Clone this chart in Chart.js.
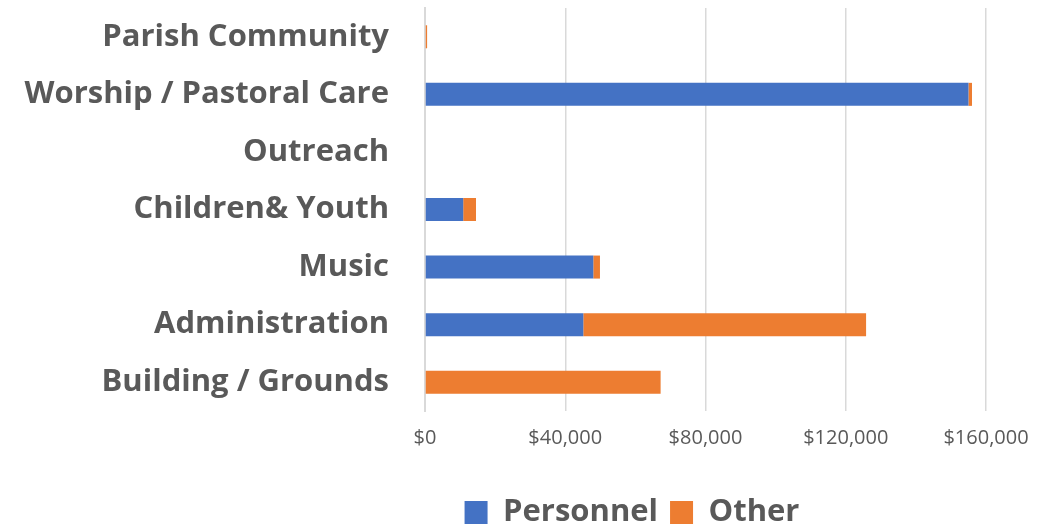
<!DOCTYPE html>
<html>
<head>
<meta charset="utf-8">
<script src="https://cdn.jsdelivr.net/npm/chart.js@4"></script>
<style>
  html, body { margin: 0; padding: 0; background: #fff; }
  #wrap { width: 1056px; height: 526px; }
</style>
</head>
<body>
<div id="wrap"><canvas id="chart"></canvas></div>
<script>
const categories = [
    "Parish Community", "Worship / Pastoral Care", "Outreach", "Children& Youth",
    "Music", "Administration", "Building / Grounds"
];
const personnel = [0, 155000, 0, 10900, 48000, 45150, 0];
const other = [600, 1000, 0, 3650, 1900, 80650, 67200];
const xTicks = [0, 40000, 80000, 120000, 160000];

// nudge the legend to where the original puts it (right of centre, lower)
const legendShift = {
    id: "legendShift",
    afterLayout(chart) {
        chart.legend.left += 278;
        chart.legend.top += 12;
    }
};

const createChart = () => {
    const ctx = document.querySelector("canvas#chart");
    const grey = "#595959";
    const gridColor = "#d9d9d9";

    new Chart(ctx, {
        type: "bar",
        data: {
            labels: categories,
            datasets: [
                {
                    label: "Personnel",
                    data: personnel,
                    backgroundColor: "#4472C4",
                    barPercentage: 0.8,
                    categoryPercentage: 0.5
                },
                {
                    label: "Other",
                    data: other,
                    backgroundColor: "#ED7D31",
                    barPercentage: 0.8,
                    categoryPercentage: 0.5
                }
            ]
        },
        options: {
            indexAxis: "y",
            responsive: true,
            maintainAspectRatio: false,
            animation: false,
            layout: { padding: { top: 8, right: 70, left: 0, bottom: 0 } },
            plugins: {
                tooltip: { enabled: false },
                legend: {
                    position: "bottom",
                    labels: {
                        color: grey,
                        font: { family: "Open Sans", size: 31, weight: "bold" },
                        boxWidth: 23,
                        boxHeight: 23,
                        padding: 12
                    }
                }
            },
            scales: {
                x: {
                    stacked: true,
                    min: 0,
                    max: 160000,
                    afterBuildTicks: (axis) => {
                        axis.ticks = xTicks.map(v => ({ value: v }));
                    },
                    afterFit: (axis) => {
                        axis.height = 62;
                        axis.paddingLeft = 0;
                        axis.paddingRight = 0;
                    },
                    grid: { color: gridColor, lineWidth: 1.5, drawTicks: false },
                    border: { display: false },
                    ticks: {
                        color: grey,
                        padding: 15,
                        font: { family: "Open Sans", size: 20 },
                        callback: (v) => "$" + Number(v).toLocaleString("en-US")
                    }
                },
                y: {
                    stacked: true,
                    afterFit: (axis) => {
                        axis.width = 425;
                        axis.paddingTop = 0;
                        axis.paddingBottom = 0;
                    },
                    grid: { display: false },
                    border: { display: true, color: gridColor, width: 2 },
                    ticks: {
                        color: grey,
                        padding: 28,
                        font: { family: "Open Sans", size: 31, weight: "bold" }
                    }
                }
            }
        },
        plugins: [legendShift]
    });
};

createChart();
</script>
</body>
</html>
